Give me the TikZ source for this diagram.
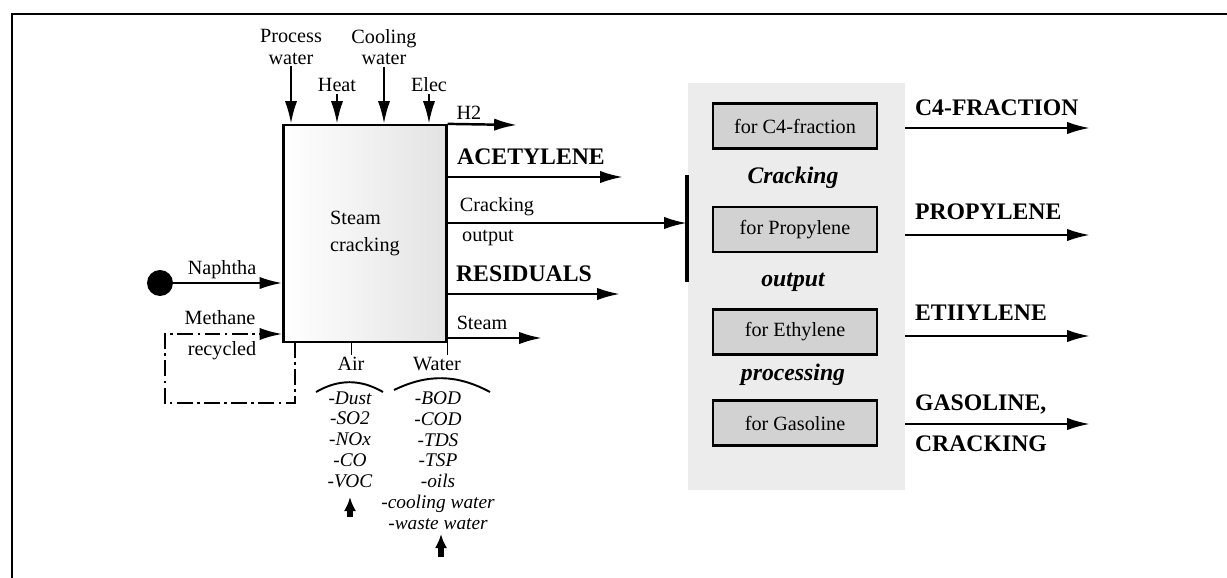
\documentclass[tikz,border=0pt]{standalone}
\usepackage{fontspec}
\setmainfont{Liberation Serif}
\usetikzlibrary{arrows.meta}
\usetikzlibrary{positioning}

\begin{document}
\begin{tikzpicture}[x=0.02cm, y=-0.02cm, >={Latex[length=13pt, width=7pt]}, font=\fontsize{11.5}{12}\selectfont]

  \tikzset{
    flow/.style={->, line width=1.4pt},
    recyc/.style={->, line width=1.3pt, dash pattern=on 9pt off 2.5pt on 1.5pt off 2.5pt},
    lbl/.style={inner sep=1pt},
    product/.style={inner sep=1pt, font=\fontsize{13.5}{14}\bfseries},
    emis/.style={inner sep=0pt, align=center, font=\fontsize{11}{11.8}\itshape},
    rise/.style={-{Latex[length=8pt, width=7pt]}, line width=3pt},
    unitbox/.style={draw, line width=1.5pt, fill=gray!35, minimum width=3.28cm, minimum height=0.9cm, inner sep=0pt},
    stage/.style={inner sep=1pt, font=\fontsize{13.5}{14}\bfseries\itshape},
  }

  \useasboundingbox (0,0) rectangle (1227,578);

  % ---------- Frame ----------
  \draw[line width=1.7pt] (12,578) -- (12,14) -- (1227,14);

  % ---------- Steam cracking unit ----------
  \node[draw, line width=1.3pt, minimum width=3.26cm, minimum height=4.34cm, inner sep=0pt,
        left color=white, right color=gray!22, align=left] (sc) at (365,233.5) {Steam\\[3pt]cracking};

  % inputs from the top
  \node[lbl, align=center] (pw) at (291,47) {Process\\water};
  \node[lbl] (heat) at (337,85) {Heat};
  \node[lbl, align=center] (cw) at (384,47) {Cooling\\water};
  \node[lbl] (elec) at (429,85) {Elec};

  \draw[flow] (pw.south) -- (pw.south |- sc.north);
  \draw[flow] (heat.south) -- (heat.south |- sc.north);
  \draw[flow] (cw.south) -- (cw.south |- sc.north);
  \draw[flow] (elec.south) -- (elec.south |- sc.north);

  % outputs to the right
  \coordinate (h2) at (517,125);
  \coordinate (acet) at (623,177);
  \coordinate (crk) at (687,223);
  \coordinate (resid) at (620,294);
  \coordinate (steam) at (542,338);

  \draw[flow] (sc.north east) -- (h2);
  \draw[flow] (sc.east |- acet) -- (acet);
  \draw[flow] (sc.east |- crk) -- (crk);
  \draw[flow] (sc.east |- resid) -- (resid);
  \draw[flow] (sc.east |- steam) -- (steam);

  \node[lbl] (h2lbl) at (469,113) {H2};
  \node[product] (acetlbl) at (531,157) {ACETYLENE};
  \node[lbl] (crklbl) at (497,207) {Cracking};
  \node[lbl] (outlbl) at (488,238) {output};
  \node[product] (residlbl) at (524,274) {RESIDUALS};
  \node[lbl] (steamlbl) at (482,323) {Steam};

  % ---------- Feed on the left ----------
  \node[circle, fill=black, minimum size=0.52cm, inner sep=0pt] (src) at (160,283) {};
  \draw[flow] (src) -- (sc.west |- src);
  \node[lbl] (naph) at (222,270) {Naphtha};

  \coordinate (rc1) at (295,342);
  \coordinate (rc2) at (295,403);
  \coordinate (rc3) at (165,403);
  \coordinate (rc4) at (165,334);
  \draw[recyc] (rc1) -- (rc2) -- (rc3) -- (rc4) -- (sc.west |- rc4);
  \node[lbl] (meth) at (220,318) {Methane};
  \node[lbl] (recy) at (222,351) {recycled};

  % ---------- Emissions below ----------
  \node[lbl] (air) at (351,364) {Air};
  \node[lbl] (water) at (437,364) {Water};
  \draw[thin] (sc.south -| air) -- (air.north);
  \draw[thin] (sc.south east) -- ++(0,12);

  \coordinate (arcA1) at (316,392);
  \coordinate (arcA2) at (383,392);
  \coordinate (arcW1) at (394,390);
  \coordinate (arcW2) at (490,392);
  \draw[line width=1.1pt] (arcA1) to[bend left=30] (arcA2);
  \draw[line width=1.1pt] (arcW1) to[bend left=27] (arcW2);

  \node[emis] (airitems) at (350,439.5) {-Dust\\-SO2\\-NOx\\-CO\\-VOC};
  \node[emis] (wateritems) at (438,460.5) {-BOD\\-COD\\-TDS\\-TSP\\-oils\\-cooling water\\-waste water};

  \coordinate (airout) at (350,517);
  \coordinate (waterout) at (441,557);
  \draw[rise] (airout) -- ++(0,-20);
  \draw[rise] (waterout) -- ++(0,-23);

  % ---------- Cracking output processing ----------
  \node[fill=gray!15, minimum width=4.34cm, minimum height=8.14cm, inner sep=0pt] (panel) at (796.5,286.5) {};
  \draw[line width=2pt] (687,175) -- (687,282);

  \node[unitbox] (uc4) at (795,126) {for C4-fraction};
  \node[unitbox] (uprop) at (795,229.5) {for Propylene};
  \node[unitbox] (ueth) at (795,332) {for Ethylene};
  \node[unitbox] (ugas) at (795,423) {for Gasoline};

  \node[stage] (st1) at (793,178) {Cracking};
  \node[stage] (st2) at (793,282) {output};
  \node[stage] (st3) at (793,375) {processing};

  % products
  \coordinate (pc4) at (1090,128);
  \coordinate (pprop) at (1090,235);
  \coordinate (peth) at (1090,336);
  \coordinate (pgas) at (1090,424);
  \draw[flow] (panel.east |- pc4) -- (pc4);
  \draw[flow] (panel.east |- pprop) -- (pprop);
  \draw[flow] (panel.east |- peth) -- (peth);
  \draw[flow] (panel.east |- pgas) -- (pgas);

  \node[product, anchor=west] (c4lbl) at (913,108) {C4-FRACTION};
  \node[product, anchor=west] (proplbl) at (913,212) {PROPYLENE};
  \node[product, anchor=west] (ethlbl) at (913,313) {ETIIYLENE};
  \node[product, anchor=west] (gaslbl) at (913,404) {GASOLINE,};
  \node[product, anchor=west] (cracklbl) at (913,444) {CRACKING};

\end{tikzpicture}
\end{document}
